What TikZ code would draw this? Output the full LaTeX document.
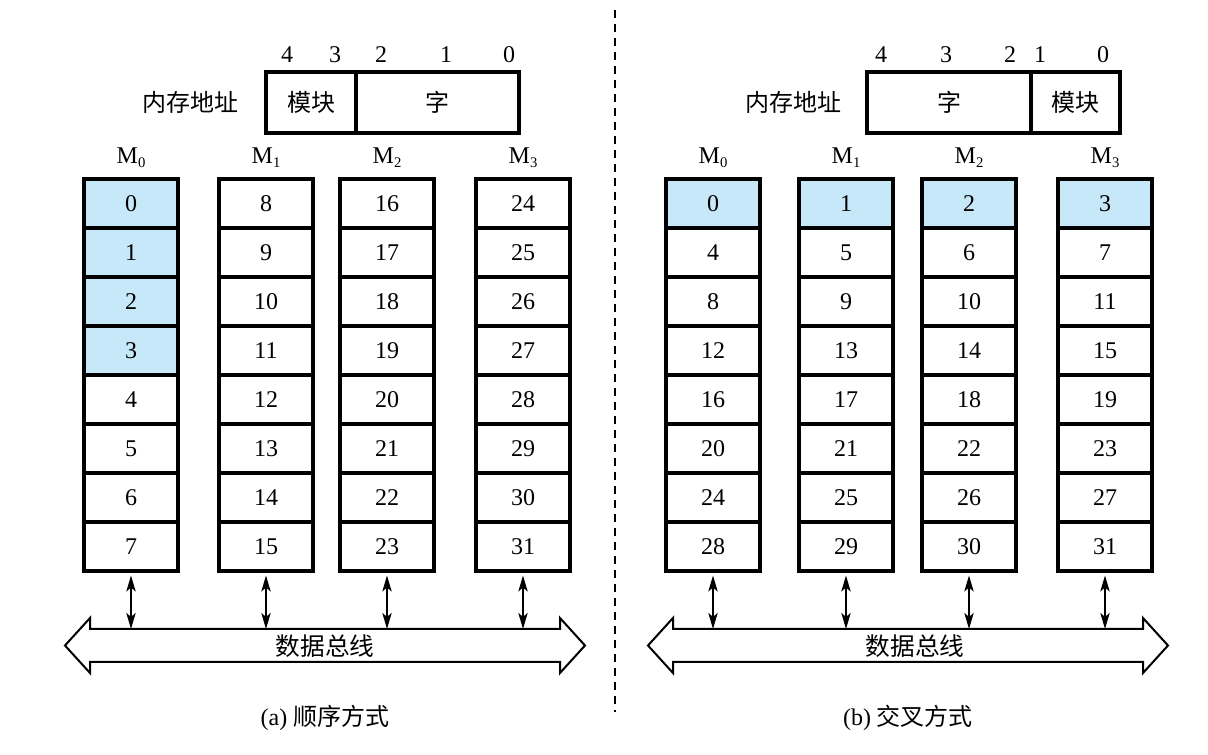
\documentclass[tikz,border=0pt]{standalone}
\usepackage{fontspec}
\setmainfont{Liberation Serif}
\newfontfamily\cjk{Noto Sans CJK SC}
\usetikzlibrary{arrows.meta}
\definecolor{hl}{RGB}{198,232,249}
\begin{document}
\begin{tikzpicture}[x=0.75pt,y=-0.75pt,
  cell/.style={draw, line width=3pt, minimum width=70.5pt, minimum height=36.75pt, inner sep=0pt, font=\fontsize{18}{20}\selectfont},
  hcell/.style={cell, fill=hl},
  hbox/.style={draw, line width=3pt, minimum height=45.75pt, inner sep=0pt, font=\cjk\fontsize{18}{20}\selectfont},
  biarrow/.style={line width=1.5pt, {Stealth[length=12pt,width=7pt,inset=3pt]}-{Stealth[length=12pt,width=7pt,inset=3pt]}, shorten <=1.5pt},
  bus/.style={draw, line width=1.5pt, fill=white},
  lbl/.style={font=\fontsize{18}{20}\selectfont, inner sep=0pt},
  cn/.style={font=\cjk\fontsize{18}{20}\selectfont, inner sep=0pt},
  cnb/.style={font=\cjk\fontsize{18.5}{20}\selectfont, inner sep=0pt}
]
\useasboundingbox (0,0) rectangle (1208,755);

% ---------- divider ----------
\coordinate (dtop) at (615,10);
\coordinate (dbot) at (615,712);
\draw[line width=1pt, dash pattern=on 6pt off 4.5pt] (dtop) -- (dbot);

% ---------- left header ----------
\node[cn] (addrA) at (190,102.5) {内存地址};
\node[hbox, minimum width=67.5pt] (modA) at (311,102.5) {模块};
\node[hbox, minimum width=122.25pt] (wordA) at (437.5,102.5) {字};
\foreach \b/\x in {4/287,3/335,2/381,1/446,0/509}
  \node[lbl] (bA\b) at (\x,55) {\b};

% ---------- right header ----------
\node[cn] (addrB) at (793,102.5) {内存地址};
\node[hbox, minimum width=123pt] (wordB) at (949,102.5) {字};
\node[hbox, minimum width=66.75pt] (modB) at (1075.5,102.5) {模块};
\foreach \b/\x in {4/881,3/946,2/1010,1/1040,0/1103}
  \node[lbl] (bB\b) at (\x,55) {\b};

% ---------- buses ----------
\coordinate (busAtop) at (325,629);
\coordinate (busBtop) at (908,629);
\draw[bus] (65,645.5) -- (90,618) -- (90,629) -- (560,629) -- (560,618) -- (585,645.5)
  -- (560,673) -- (560,662) -- (90,662) -- (90,673) -- cycle;
\node[cnb] (busA) at (325,646) {数据总线};
\draw[bus] (648,645.5) -- (673,618) -- (673,629) -- (1143,629) -- (1143,618) -- (1168,645.5)
  -- (1143,673) -- (1143,662) -- (673,662) -- (673,673) -- cycle;
\node[cnb] (busB) at (915,646) {数据总线};

% ---------- left memory (sequential) ----------
\foreach \c/\x in {0/131,1/266,2/387,3/523}{
  \node[lbl] (mA\c) at (\x,158) {M\raisebox{-0.35ex}{\fontsize{11}{11}\selectfont\c}};
  \foreach \r in {0,...,7}{
    \pgfmathtruncatemacro\v{8*\c+\r}
    \pgfmathtruncatemacro\yy{204+49*\r}
    \def\st{cell}
    \ifnum\c=0 \ifnum\r<4 \def\st{hcell}\fi\fi
    \node[\st] (a\c-\r) at (\x,\yy) {\v};
  }
  \draw[biarrow] (a\c-7.south) -- (a\c-7.south |- busAtop);
}

% ---------- right memory (interleaved) ----------
\foreach \c/\x in {0/713,1/846,2/969,3/1105}{
  \node[lbl] (mB\c) at (\x,158) {M\raisebox{-0.35ex}{\fontsize{11}{11}\selectfont\c}};
  \foreach \r in {0,...,7}{
    \pgfmathtruncatemacro\v{4*\r+\c}
    \pgfmathtruncatemacro\yy{204+49*\r}
    \def\st{cell}
    \ifnum\r=0 \def\st{hcell}\fi
    \node[\st] (b\c-\r) at (\x,\yy) {\v};
  }
  \draw[biarrow] (b\c-7.south) -- (b\c-7.south |- busBtop);
}

% ---------- captions ----------
\node[lbl] (capA) at (325,718) {(a) {\cjk 顺序方式}};
\node[lbl] (capB) at (908,718) {(b) {\cjk 交叉方式}};
\end{tikzpicture}
\end{document}
